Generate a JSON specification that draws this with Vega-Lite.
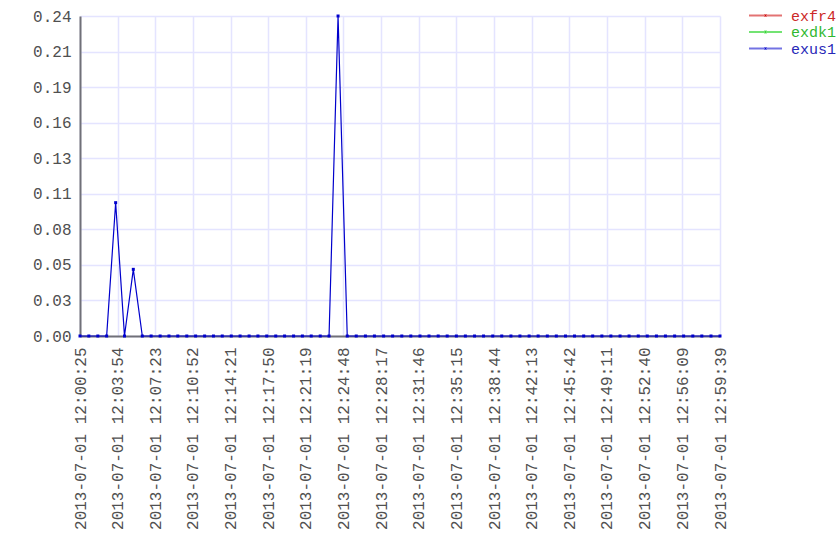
{
  "$schema": "https://vega.github.io/schema/vega-lite/v6.json",
  "width": 640,
  "height": 320,
  "autosize": {"type": "none"},
  "padding": {"left": 80, "top": 16, "right": 120, "bottom": 224},
  "background": "white",
  "config": {
    "view": {"stroke": null},
    "font": "Liberation Mono"
  },
  "data": {
    "values": [
      {"t": "2013-07-01T12:00:25", "series": "exus1", "v": 0},
      {"t": "2013-07-01T12:01:14", "series": "exus1", "v": 0},
      {"t": "2013-07-01T12:02:04", "series": "exus1", "v": 0},
      {"t": "2013-07-01T12:02:53", "series": "exus1", "v": 0},
      {"t": "2013-07-01T12:03:43", "series": "exus1", "v": 0.1},
      {"t": "2013-07-01T12:04:32", "series": "exus1", "v": 0},
      {"t": "2013-07-01T12:05:21", "series": "exus1", "v": 0.05},
      {"t": "2013-07-01T12:06:11", "series": "exus1", "v": 0},
      {"t": "2013-07-01T12:07:00", "series": "exus1", "v": 0},
      {"t": "2013-07-01T12:07:50", "series": "exus1", "v": 0},
      {"t": "2013-07-01T12:08:39", "series": "exus1", "v": 0},
      {"t": "2013-07-01T12:09:28", "series": "exus1", "v": 0},
      {"t": "2013-07-01T12:10:18", "series": "exus1", "v": 0},
      {"t": "2013-07-01T12:11:07", "series": "exus1", "v": 0},
      {"t": "2013-07-01T12:11:57", "series": "exus1", "v": 0},
      {"t": "2013-07-01T12:12:46", "series": "exus1", "v": 0},
      {"t": "2013-07-01T12:13:35", "series": "exus1", "v": 0},
      {"t": "2013-07-01T12:14:25", "series": "exus1", "v": 0},
      {"t": "2013-07-01T12:15:14", "series": "exus1", "v": 0},
      {"t": "2013-07-01T12:16:04", "series": "exus1", "v": 0},
      {"t": "2013-07-01T12:16:53", "series": "exus1", "v": 0},
      {"t": "2013-07-01T12:17:42", "series": "exus1", "v": 0},
      {"t": "2013-07-01T12:18:32", "series": "exus1", "v": 0},
      {"t": "2013-07-01T12:19:21", "series": "exus1", "v": 0},
      {"t": "2013-07-01T12:20:11", "series": "exus1", "v": 0},
      {"t": "2013-07-01T12:21:00", "series": "exus1", "v": 0},
      {"t": "2013-07-01T12:21:49", "series": "exus1", "v": 0},
      {"t": "2013-07-01T12:22:39", "series": "exus1", "v": 0},
      {"t": "2013-07-01T12:23:28", "series": "exus1", "v": 0},
      {"t": "2013-07-01T12:24:18", "series": "exus1", "v": 0.24},
      {"t": "2013-07-01T12:25:09", "series": "exus1", "v": 0},
      {"t": "2013-07-01T12:25:59", "series": "exus1", "v": 0},
      {"t": "2013-07-01T12:26:50", "series": "exus1", "v": 0},
      {"t": "2013-07-01T12:27:40", "series": "exus1", "v": 0},
      {"t": "2013-07-01T12:28:31", "series": "exus1", "v": 0},
      {"t": "2013-07-01T12:29:21", "series": "exus1", "v": 0},
      {"t": "2013-07-01T12:30:12", "series": "exus1", "v": 0},
      {"t": "2013-07-01T12:31:02", "series": "exus1", "v": 0},
      {"t": "2013-07-01T12:31:53", "series": "exus1", "v": 0},
      {"t": "2013-07-01T12:32:43", "series": "exus1", "v": 0},
      {"t": "2013-07-01T12:33:34", "series": "exus1", "v": 0},
      {"t": "2013-07-01T12:34:24", "series": "exus1", "v": 0},
      {"t": "2013-07-01T12:35:15", "series": "exus1", "v": 0},
      {"t": "2013-07-01T12:36:05", "series": "exus1", "v": 0},
      {"t": "2013-07-01T12:36:56", "series": "exus1", "v": 0},
      {"t": "2013-07-01T12:37:46", "series": "exus1", "v": 0},
      {"t": "2013-07-01T12:38:37", "series": "exus1", "v": 0},
      {"t": "2013-07-01T12:39:27", "series": "exus1", "v": 0},
      {"t": "2013-07-01T12:40:18", "series": "exus1", "v": 0},
      {"t": "2013-07-01T12:41:08", "series": "exus1", "v": 0},
      {"t": "2013-07-01T12:41:59", "series": "exus1", "v": 0},
      {"t": "2013-07-01T12:42:49", "series": "exus1", "v": 0},
      {"t": "2013-07-01T12:43:40", "series": "exus1", "v": 0},
      {"t": "2013-07-01T12:44:30", "series": "exus1", "v": 0},
      {"t": "2013-07-01T12:45:21", "series": "exus1", "v": 0},
      {"t": "2013-07-01T12:46:11", "series": "exus1", "v": 0},
      {"t": "2013-07-01T12:47:02", "series": "exus1", "v": 0},
      {"t": "2013-07-01T12:47:52", "series": "exus1", "v": 0},
      {"t": "2013-07-01T12:48:43", "series": "exus1", "v": 0},
      {"t": "2013-07-01T12:49:33", "series": "exus1", "v": 0},
      {"t": "2013-07-01T12:50:24", "series": "exus1", "v": 0},
      {"t": "2013-07-01T12:51:14", "series": "exus1", "v": 0},
      {"t": "2013-07-01T12:52:05", "series": "exus1", "v": 0},
      {"t": "2013-07-01T12:52:55", "series": "exus1", "v": 0},
      {"t": "2013-07-01T12:53:46", "series": "exus1", "v": 0},
      {"t": "2013-07-01T12:54:36", "series": "exus1", "v": 0},
      {"t": "2013-07-01T12:55:27", "series": "exus1", "v": 0},
      {"t": "2013-07-01T12:56:17", "series": "exus1", "v": 0},
      {"t": "2013-07-01T12:57:08", "series": "exus1", "v": 0},
      {"t": "2013-07-01T12:57:58", "series": "exus1", "v": 0},
      {"t": "2013-07-01T12:58:49", "series": "exus1", "v": 0},
      {"t": "2013-07-01T12:59:39", "series": "exus1", "v": 0}
    ]
  },
  "encoding": {
    "x": {
      "field": "t",
      "type": "temporal",
      "scale": {
        "domain": [
          {"year": 2013, "month": 7, "date": 1, "hours": 12, "minutes": 0, "seconds": 25},
          {"year": 2013, "month": 7, "date": 1, "hours": 12, "minutes": 59, "seconds": 39}
        ],
        "nice": false
      },
      "axis": {
        "title": null,
        "values": [
          {"year": 2013, "month": 7, "date": 1, "hours": 12, "minutes": 0, "seconds": 25},
          {"year": 2013, "month": 7, "date": 1, "hours": 12, "minutes": 3, "seconds": 54},
          {"year": 2013, "month": 7, "date": 1, "hours": 12, "minutes": 7, "seconds": 23},
          {"year": 2013, "month": 7, "date": 1, "hours": 12, "minutes": 10, "seconds": 52},
          {"year": 2013, "month": 7, "date": 1, "hours": 12, "minutes": 14, "seconds": 21},
          {"year": 2013, "month": 7, "date": 1, "hours": 12, "minutes": 17, "seconds": 50},
          {"year": 2013, "month": 7, "date": 1, "hours": 12, "minutes": 21, "seconds": 19},
          {"year": 2013, "month": 7, "date": 1, "hours": 12, "minutes": 24, "seconds": 48},
          {"year": 2013, "month": 7, "date": 1, "hours": 12, "minutes": 28, "seconds": 17},
          {"year": 2013, "month": 7, "date": 1, "hours": 12, "minutes": 31, "seconds": 46},
          {"year": 2013, "month": 7, "date": 1, "hours": 12, "minutes": 35, "seconds": 15},
          {"year": 2013, "month": 7, "date": 1, "hours": 12, "minutes": 38, "seconds": 44},
          {"year": 2013, "month": 7, "date": 1, "hours": 12, "minutes": 42, "seconds": 13},
          {"year": 2013, "month": 7, "date": 1, "hours": 12, "minutes": 45, "seconds": 42},
          {"year": 2013, "month": 7, "date": 1, "hours": 12, "minutes": 49, "seconds": 11},
          {"year": 2013, "month": 7, "date": 1, "hours": 12, "minutes": 52, "seconds": 40},
          {"year": 2013, "month": 7, "date": 1, "hours": 12, "minutes": 56, "seconds": 9},
          {"year": 2013, "month": 7, "date": 1, "hours": 12, "minutes": 59, "seconds": 39}
        ],
        "format": "%Y-%m-%d %H:%M:%S",
        "labelAngle": 270,
        "labelFont": "Liberation Mono",
        "labelFontSize": 16,
        "labelColor": "#505050",
        "labelPadding": 11,
        "labelLimit": 0,
        "labelOverlap": false,
        "labelFlush": false,
        "ticks": false,
        "grid": true,
        "gridColor": "#e4e4ff",
        "gridWidth": 1.5,
        "domainColor": "#707078",
        "domainWidth": 2
      }
    },
    "y": {
      "field": "v",
      "type": "quantitative",
      "scale": {"domain": [0, 0.24], "nice": false, "zero": true},
      "axis": {
        "title": null,
        "values": [0, 0.026667, 0.053333, 0.08, 0.106667, 0.133333, 0.16, 0.186667, 0.213333, 0.24],
        "format": ".2f",
        "labelFont": "Liberation Mono",
        "labelFontSize": 16,
        "labelColor": "#505050",
        "labelPadding": 9,
        "ticks": false,
        "grid": true,
        "gridColor": "#e4e4ff",
        "gridWidth": 1.5,
        "domainColor": "#707078",
        "domainWidth": 2
      }
    },
    "color": {
      "field": "series",
      "type": "nominal",
      "scale": {
        "domain": ["exfr4", "exdk1", "exus1"],
        "range": ["#cc0000", "#00cc00", "#0000cc"]
      },
      "legend": {
        "title": null,
        "orient": "none",
        "legendX": 678,
        "legendY": -8,
        "padding": 0,
        "symbolType": "M-3.3,0H3.3M-0.1,-0.1H0.1V0.1H-0.1Z",
        "symbolSize": 100,
        "symbolStrokeWidth": 2,
        "labelFont": "Liberation Mono",
        "labelFontSize": 15,
        "labelOffset": 18,
        "labelLimit": 0,
        "rowPadding": 0.5,
        "encode": {
          "symbols": {
            "update": {
              "fill": {"scale": "color", "field": "value"},
              "stroke": {"scale": "color", "field": "value"},
              "strokeOpacity": {"value": 0.55},
              "fillOpacity": {"value": 1}
            }
          },
          "labels": {
            "update": {
              "fill": {"signal": "datum.value == 'exfr4' ? '#cc2828' : datum.value == 'exdk1' ? '#30b830' : '#2828b8'"}
            }
          }
        }
      }
    }
  },
  "layer": [
    {"mark": {"type": "line", "strokeWidth": 1.2}},
    {"mark": {"type": "point", "shape": "square", "filled": true, "size": 9, "opacity": 1}}
  ]
}
